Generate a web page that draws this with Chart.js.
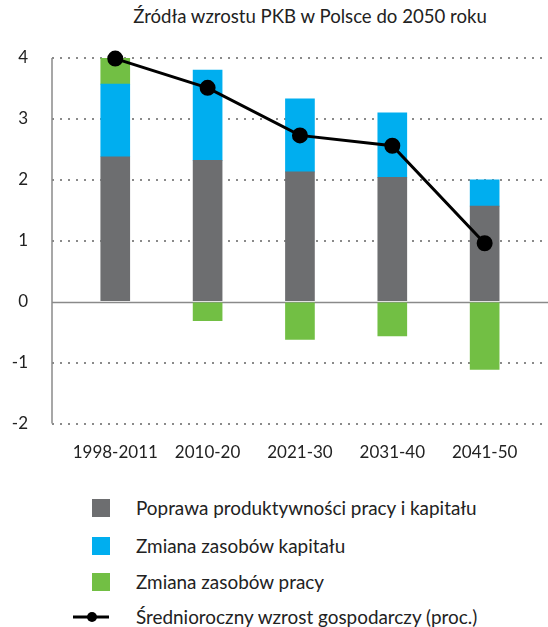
<!DOCTYPE html>
<html>
<head>
<meta charset="utf-8">
<script src="https://cdn.jsdelivr.net/npm/chart.js@4"></script>
<style>
  body { margin: 0; background: #fff; font-family: Lato, "Noto Sans", sans-serif; color: #222; }
  #wrap { position: relative; width: 548px; height: 627px; }
  #chart { position: absolute; left: 0; top: 0; }
  #title { position: absolute; top: 5px; left: 0; width: 620px; text-align: center; font-size: 18.6px; }
  .leg { position: absolute; left: 0; font-size: 18.9px; height: 20px; line-height: 20px; }
  .leg .box { position: absolute; left: 92px; top: 1px; width: 18px; height: 18px; }
  .leg .txt { position: absolute; left: 136px; white-space: nowrap; }
</style>
</head>
<body>
<div id="wrap">
  <div id="title">Źródła wzrostu PKB w Polsce do 2050 roku</div>
  <canvas id="chart" width="548" height="484"></canvas>
  <div id="legend"></div>
</div>
<script>
var categories = ["1998-2011", "2010-20", "2021-30", "2031-40", "2041-50"];
var productivity = [2.38, 2.32, 2.13, 2.04, 1.57];
var capital = [1.19, 1.48, 1.20, 1.06, 0.43];
var labour = [0.43, -0.31, -0.62, -0.56, -1.11];
var growth = [3.99, 3.51, 2.73, 2.56, 0.96];
var yTicks = [-2, -1, 0, 1, 2, 3, 4];

var seriesNames = [
  "Poprawa produktywności pracy i kapitału",
  "Zmiana zasobów kapitału",
  "Zmiana zasobów pracy",
  "Średnioroczny wzrost gospodarczy (proc.)"
];
var colors = ["#6d6e70", "#00aeef", "#72bf44", "#000000"];

var xMin = -0.685, xMax = 4.686;

function points(arr) {
  return arr.map(function (v, i) { return { x: i, y: v }; });
}

// solid zero line and left axis, the other gridlines are dotted
var axisLines = {
  id: "axisLines",
  beforeDatasetsDraw: function (chart) {
    var ctx = chart.ctx, a = chart.chartArea;
    var y = Math.round(chart.scales.y.getPixelForValue(0)) + 0.5;
    ctx.save();
    ctx.strokeStyle = "#8a8a8a";
    ctx.lineWidth = 1.5;
    ctx.beginPath();
    ctx.moveTo(a.left, y);
    ctx.lineTo(a.right, y);
    ctx.moveTo(a.left, a.top);
    ctx.lineTo(a.left, a.bottom);
    ctx.stroke();
    ctx.restore();
  }
};

var barStyle = { type: "bar", barThickness: 29, borderWidth: 0 };

new Chart(document.getElementById("chart"), {
  data: {
    datasets: [
      Object.assign({ label: seriesNames[0], data: points(productivity), backgroundColor: colors[0], order: 2 }, barStyle),
      Object.assign({ label: seriesNames[1], data: points(capital), backgroundColor: colors[1], order: 2 }, barStyle),
      Object.assign({ label: seriesNames[2], data: points(labour), backgroundColor: colors[2], order: 2 }, barStyle),
      {
        type: "line",
        label: seriesNames[3],
        data: points(growth),
        borderColor: colors[3],
        backgroundColor: colors[3],
        borderWidth: 3,
        pointRadius: 6.5,
        pointHoverRadius: 6.5,
        tension: 0,
        clip: false,
        order: 1
      }
    ]
  },
  options: {
    responsive: false,
    animation: false,
    layout: { autoPadding: false, padding: { top: 58, right: 0, bottom: 10, left: 0 } },
    plugins: { legend: { display: false }, tooltip: { enabled: false } },
    scales: {
      x: {
        type: "linear",
        stacked: true,
        offset: false,
        bounds: "data",
        min: xMin,
        max: xMax,
        grid: { display: false },
        border: { display: false },
        afterBuildTicks: function (s) {
          s.ticks = categories.map(function (c, i) { return { value: i }; });
          s.min = xMin;
          s.max = xMax;
        },
        afterFit: function (s) { s.paddingLeft = 0; s.paddingRight = 0; },
        ticks: {
          autoSkip: false,
          maxRotation: 0,
          padding: 11,
          color: "#222",
          font: { family: "Lato", size: 17 },
          callback: function (v) { return categories[v]; }
        }
      },
      y: {
        stacked: true,
        min: -2,
        max: 4,
        afterFit: function (s) { s.width = 52; },
        afterBuildTicks: function (s) {
          s.ticks = yTicks.map(function (v) { return { value: v }; });
        },
        grid: {
          color: function (c) { return c.tick && c.tick.value === 0 ? "rgba(0,0,0,0)" : "#8a8a8a"; },
          lineWidth: 2,
          drawTicks: false
        },
        border: { display: false, dash: [2, 6] },
        ticks: {
          padding: 24,
          color: "#222",
          font: { family: "Lato", size: 17 }
        }
      }
    }
  },
  plugins: [axisLines]
});

// legend
var legendTops = [498, 536, 572, 607];
var legendHtml = "";
seriesNames.forEach(function (name, i) {
  var marker;
  if (i < 3) {
    marker = '<div class="box" style="background:' + colors[i] + '"></div>';
  } else {
    marker = '<svg style="position:absolute;left:72px;top:0" width="40" height="20">' +
      '<line x1="1" y1="10" x2="37" y2="10" stroke="#000" stroke-width="3"/>' +
      '<circle cx="20" cy="10" r="5" fill="#000"/></svg>';
  }
  legendHtml += '<div class="leg" style="top:' + legendTops[i] + 'px;width:548px">' + marker +
    '<span class="txt">' + name + '</span></div>';
});
document.getElementById("legend").innerHTML = legendHtml;
</script>
</body>
</html>
